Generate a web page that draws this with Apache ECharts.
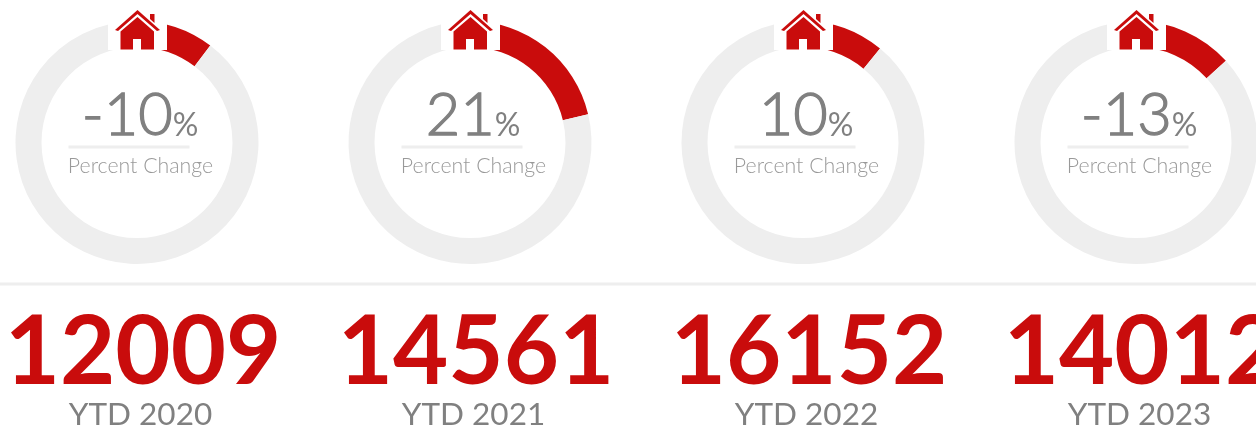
<!DOCTYPE html>
<html>
<head>
<meta charset="utf-8">
<style>html,body{margin:0;padding:0;background:#fff}#c{width:1256px;height:428px}</style>
<script src="https://cdn.jsdelivr.net/npm/echarts@6/dist/echarts.min.js"></script>
</head>
<body>
<div id="c"></div>
<script>
const years = ['YTD 2020', 'YTD 2021', 'YTD 2022', 'YTD 2023'];
const percentChange = [-10, 21, 10, -13];
const arcShare = [10.3, 21.25, 10.93, 13.25];
const totals = [12009, 14561, 16152, 14012];
const subLabel = 'Percent Change';
const centers = [137, 470, 803, 1136];
const RED = '#c90c0c', TRACK = '#eeeeee';
const roof = [[-22.5,30],[0,10],[22.5,30],[19.5,31],[0,14],[-19.5,31]];
const body = [[0,17],[16.5,31.5],[16.5,49.5],[3.5,49.5],[3.5,39],[-4.5,39],[-4.5,49.5],[-17,49.5],[-17,31.5]];
const chimney = [[12.5,14],[17,14],[17,23],[12.5,19]];

const chart = echarts.init(document.getElementById('c'), null, {renderer: 'canvas'});
const series = [], title = [], graphic = [];
graphic.push({type: 'rect', z: 1, silent: true, shape: {x: 0, y: 282.5, width: 1256, height: 3}, style: {fill: TRACK}});
centers.forEach((cx, i) => {
  const v = arcShare[i];
  series.push({
    type: 'pie', silent: true, animation: false, clockwise: true, startAngle: 90,
    center: [cx, 142.5], radius: [95.5, 121.5], label: {show: false}, labelLine: {show: false},
    emphasis: {disabled: true},
    data: [{value: v, itemStyle: {color: RED}}, {value: 100 - v, itemStyle: {color: TRACK}}]
  });
  const tx = cx + 3.5;
  title.push({
    left: tx - 0.5, top: 81, textAlign: 'center', padding: 0,
    text: '{a|' + percentChange[i] + '}{b|%}',
    textStyle: {rich: {
      a: {fontFamily: 'Lato', fontWeight: 300, fontSize: 59.5, color: '#808080', lineHeight: 70, textBorderColor: '#808080', textBorderWidth: 1.3},
      b: {fontFamily: 'Lato', fontWeight: 400, fontSize: 32, color: '#808080', lineHeight: 54, verticalAlign: 'bottom', padding: [0, 0, 9, 0]}
    }}
  });
  title.push({left: tx, top: 156, textAlign: 'center', padding: 0, text: subLabel,
    textStyle: {fontFamily: 'Lato', fontWeight: 300, fontSize: 21.3, color: '#999999'}});
  title.push({left: tx + 2.5, top: 306, textAlign: 'center', padding: 0, text: String(totals[i]),
    textStyle: {fontFamily: 'Lato', fontWeight: 700, fontSize: 95.4, color: RED}});
  title.push({left: tx, top: 399, textAlign: 'center', padding: 0, text: years[i],
    textStyle: {fontFamily: 'Lato', fontWeight: 400, fontSize: 31.5, color: '#808080'}});
  graphic.push({type: 'rect', z: 10, silent: true, shape: {x: cx - 29, y: 0, width: 59, height: 50}, style: {fill: '#fff'}});
  [roof, body, chimney].forEach(pts => graphic.push({type: 'polygon', z: 11, silent: true, x: cx + 0.5, y: 0, shape: {points: pts}, style: {fill: RED}}));
  graphic.push({type: 'rect', z: 5, silent: true, shape: {x: cx - 68.5, y: 145.5, width: 121, height: 3}, style: {fill: TRACK}});
});
chart.setOption({animation: false, backgroundColor: '#fff', title, series, graphic});
</script>
</body>
</html>
